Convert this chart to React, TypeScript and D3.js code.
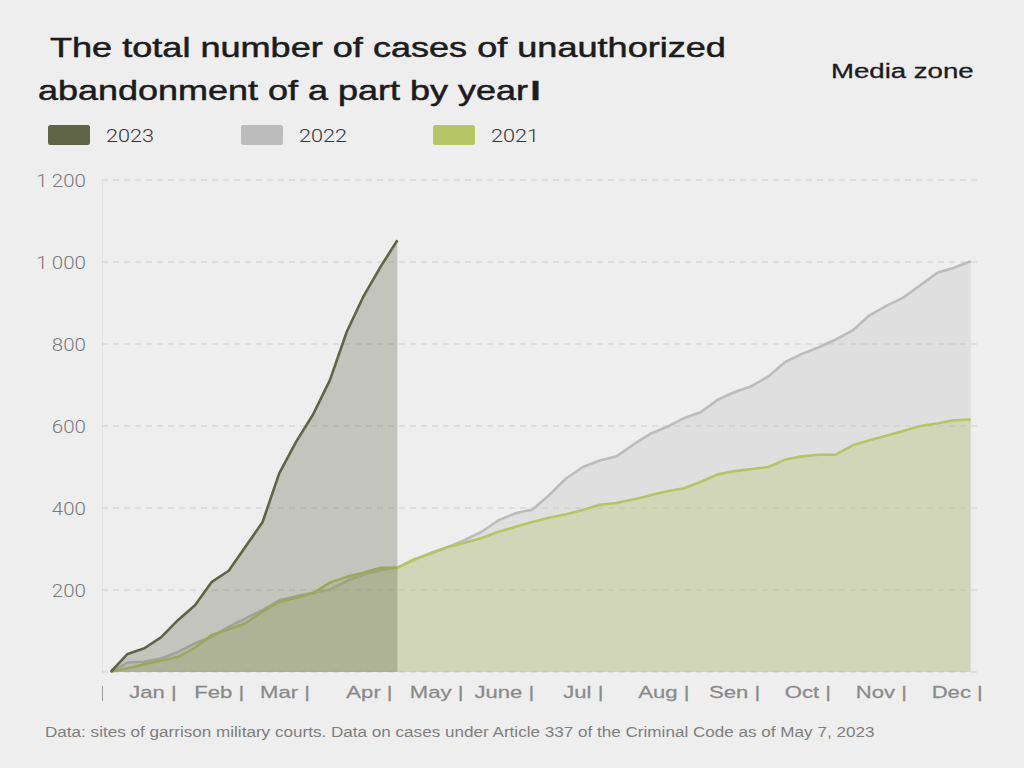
import React, { useEffect, useRef } from 'react';
import * as d3 from 'd3';

// weekly cumulative counts, week 0 = start of January
const weeks2023 = [0, 44, 58, 85, 127, 163, 220, 247, 306, 365, 485, 562, 628, 712, 830, 917, 988, 1053];
const weeks2022 = [
  0, 23, 25, 33, 49, 70, 86, 110, 131, 151, 175, 185, 193, 201, 222, 238, 248, 255,
  273, 291, 305, 322, 342, 370, 387, 396, 431, 472, 500, 516, 526, 555, 581, 598,
  619, 634, 664, 683, 697, 721, 756, 776, 792, 811, 833, 870, 893, 913, 943, 973, 986, 1002,
];
const weeks2021 = [
  0, 9, 19, 28, 37, 59, 90, 104, 119, 147, 171, 181, 192, 218, 232, 242, 254, 254,
  275, 289, 305, 315, 327, 342, 354, 366, 376, 385, 395, 408, 412, 421, 431, 441,
  448, 464, 482, 490, 495, 500, 518, 526, 530, 530, 553, 565, 576, 588, 600, 606, 614, 616,
];

const monthLabels = ['Jan', 'Feb', 'Mar', 'Apr', 'May', 'June', 'Jul', 'Aug', 'Sen', 'Oct', 'Nov', 'Dec'];
// where each month separator sits, in weeks
const monthTickWeeks = [3.8, 7.8, 11.7, 16.6, 20.8, 25.0, 29.1, 34.2, 38.4, 42.6, 47.1, 51.6];
const yTicks = [0, 200, 400, 600, 800, 1000, 1200];
const legendYears = ['2023', '2022', '2021'];

const colors: Record<string, string> = {
  '2023': '#5f6446',
  '2022': '#bcbcbc',
  '2021': '#b5c465',
};

const W = 1024;
const H = 768;

const App: React.FC = () => {
  const ref = useRef<SVGSVGElement>(null);

  useEffect(() => {
    if (!ref.current) return;
    const svg = d3.select(ref.current);
    svg.selectAll('*').remove();

    svg.append('rect').attr('width', W).attr('height', H).attr('fill', '#eeeeee');

    const x = d3.scaleLinear().domain([0, 51]).range([110.7, 970.7]);
    const y = d3.scaleLinear().domain([0, 1200]).range([672, 180]);

    // stretched text, the source renders its type wide
    const text = (
      g: d3.Selection<any, unknown, null, undefined>,
      tx: number,
      ty: number,
      str: string,
      sx: number,
    ) =>
      g
        .append('text')
        .attr('transform', `translate(${tx},${ty}) scale(${sx},1)`)
        .text(str);

    // grid
    const grid = svg.append('g');
    grid
      .append('line')
      .attr('x1', 102.5)
      .attr('x2', 102.5)
      .attr('y1', y(1200))
      .attr('y2', y(0))
      .attr('stroke', '#e2e2e2')
      .attr('stroke-width', 1);
    grid
      .selectAll('line.g')
      .data(yTicks)
      .enter()
      .append('line')
      .attr('class', 'g')
      .attr('x1', 102)
      .attr('x2', 978)
      .attr('y1', (d) => y(d))
      .attr('y2', (d) => y(d))
      .attr('stroke', '#cfcfcf')
      .attr('stroke-width', 1)
      .attr('stroke-dasharray', '6,5');

    const fmt = d3.formatLocale({
      decimal: '.',
      thousands: '\u2009',
      grouping: [3],
      currency: ['', ''],
    }).format(',');

    const yAxis = svg
      .append('g')
      .attr('font-family', 'Roboto, sans-serif')
      .attr('font-weight', 300)
      .attr('font-size', 19)
      .attr('fill', '#7a7a7a')
      .attr('text-anchor', 'end');
    yTicks
      .filter((d) => d > 0)
      .forEach((d) => {
        text(yAxis, 86, y(d) + 6.5, fmt(d), 1.08);
      });

    // areas and lines
    const area = d3
      .area<number>()
      .x((_, i) => x(i))
      .y0(y(0))
      .y1((d) => y(d));
    const line = d3
      .line<number>()
      .x((_, i) => x(i))
      .y((d) => y(d));

    const plot = svg.append('g');
    const draw = (data: number[], key: string) => {
      plot.append('path').attr('d', area(data)).attr('fill', colors[key]).attr('fill-opacity', 0.3);
      plot
        .append('path')
        .attr('d', line(data))
        .attr('fill', 'none')
        .attr('stroke', colors[key])
        .attr('stroke-width', 2.6)
        .attr('stroke-linejoin', 'round');
    };
    draw(weeks2022, '2022');
    draw(weeks2021, '2021');
    draw(weeks2023, '2023');

    // x labels
    const xAxis = svg
      .append('g')
      .attr('font-family', '"Liberation Sans", Arial, sans-serif')
      .attr('font-size', 17)
      .attr('fill', '#8a8a8a')
      .attr('stroke', '#8a8a8a')
      .attr('stroke-width', 0.25)
      .attr('text-anchor', 'end');
    svg
      .append('line')
      .attr('x1', 102.5)
      .attr('x2', 102.5)
      .attr('y1', 686)
      .attr('y2', 701)
      .attr('stroke', '#9a9a9a')
      .attr('stroke-width', 1);
    monthLabels.forEach((m, i) => {
      text(xAxis, x(monthTickWeeks[i]) + 2, 698, `${m} |`, 1.3);
    });

    // title
    const title = svg
      .append('g')
      .attr('font-family', '"Liberation Sans", Arial, sans-serif')
      .attr('font-size', 27)
      .attr('fill', '#1c1c1c')
      .attr('stroke', '#1c1c1c')
      .attr('stroke-width', 0.5);
    text(title, 50, 57, 'The total number of cases of unauthorized', 1.337);
    const l2 = text(title, 38, 99.5, 'abandonment of a part by year', 1.333);
    l2.append('tspan').attr('font-weight', 'bold').attr('dx', 2).text('I');

    svg
      .append('g')
      .attr('font-family', '"Liberation Sans", Arial, sans-serif')
      .attr('font-size', 20)
      .attr('fill', '#1c1c1c')
      .attr('stroke', '#1c1c1c')
      .attr('stroke-width', 0.3)
      .call((g) => text(g, 831, 78, 'Media zone', 1.38));

    // legend
    const legendX = [48, 241, 433];
    const legend = svg
      .append('g')
      .attr('font-family', 'Roboto, sans-serif')
      .attr('font-weight', 300)
      .attr('font-size', 18.5)
      .attr('fill', '#333333');
    legendYears.forEach((yr, i) => {
      legend
        .append('rect')
        .attr('x', legendX[i])
        .attr('y', 125)
        .attr('width', 42)
        .attr('height', 20)
        .attr('rx', 2.5)
        .attr('fill', colors[yr]);
      text(legend, legendX[i] + 58, 142, yr, 1.17);
    });

    // source note
    svg
      .append('g')
      .attr('font-family', '"Liberation Sans", Arial, sans-serif')
      .attr('font-size', 14.5)
      .attr('fill', '#7e7e7e')
      .call((g) =>
        text(
          g,
          45,
          737,
          'Data: sites of garrison military courts. Data on cases under Article 337 of the Criminal Code as of May 7, 2023',
          1.18,
        ),
      );

    return () => {
      svg.selectAll('*').remove();
    };
  }, []);

  return (
    <svg
      ref={ref}
      width={W}
      height={H}
      style={{ position: 'absolute', left: 0, top: 0, display: 'block' }}
    ></svg>
  );
};

export default App;
